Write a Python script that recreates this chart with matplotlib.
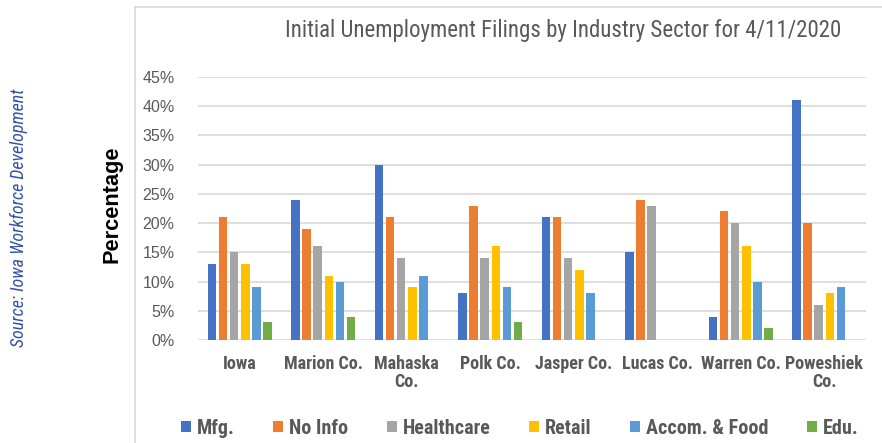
import numpy as np
import matplotlib
matplotlib.use("Agg")
import matplotlib.pyplot as plt
from matplotlib.lines import Line2D

# data (percent)
counties = ["Iowa", "Marion Co.", "Mahaska\nCo.", "Polk Co.", "Jasper Co.",
            "Lucas Co.", "Warren Co.", "Poweshiek\nCo."]
sectors = ["Mfg.", "No Info", "Healthcare", "Retail", "Accom. & Food", "Edu."]
mfg = [13, 24, 30, 8, 21, 15, 4, 41]
no_info = [21, 19, 21, 23, 21, 24, 22, 20]
healthcare = [15, 16, 14, 14, 14, 23, 20, 6]
retail = [13, 11, 9, 16, 12, 0, 16, 8]
accom_food = [9, 10, 11, 9, 8, 0, 10, 9]
edu = [3, 4, 0, 3, 0, 0, 2, 0]
yticks = [0, 5, 10, 15, 20, 25, 30, 35, 40, 45]

colors = ["#4472C4", "#ED7D31", "#A5A5A5", "#FFC000", "#5B9BD5", "#70AD47"]
series = [mfg, no_info, healthcare, retail, accom_food, edu]

narrow = ["Roboto Condensed", "DejaVu Sans"]
gray = "#595959"

fig = plt.figure(figsize=(8.82, 4.43), dpi=100)
ax = fig.add_axes([198/882, 1-340/443, (866-198)/882, (340-77)/443])

x = np.arange(len(counties))
pitch = 0.132
width = 0.102
for i, (vals, c) in enumerate(zip(series, colors)):
    v = np.array(vals, dtype=float)
    v[v == 0] = np.nan  # nothing drawn for empty cells
    ax.bar(x + (i - 2.5) * pitch, v, width, color=c, label=sectors[i], zorder=3)

ax.set_xlim(-0.5, len(counties) - 0.5)
ax.set_ylim(0, 45)
ax.set_yticks(yticks)
ax.set_yticklabels([f"{t}%" for t in yticks], fontsize=11.5, color=gray,
                   family="Liberation Sans")
ax.set_xticks(x)
ax.set_xticklabels(counties, fontsize=13, color=gray, family=narrow,
                   fontweight="bold", linespacing=1.0)
ax.tick_params(axis="y", length=0, pad=17)
ax.tick_params(axis="x", length=0, pad=11)
ax.grid(axis="y", color="#D9D9D9", linewidth=1.2, zorder=0)
for s in ax.spines.values():
    s.set_visible(False)

ax.set_ylabel("Percentage", fontsize=15.7, fontweight="bold", color="black",
              family="Liberation Sans")
ax.yaxis.set_label_coords(-(198-123)/668, (340-204)/263)

fig.text(563/882, 1-31/443, "Initial Unemployment Filings by Industry Sector for 4/11/2020",
         ha="center", va="center", fontsize=16.5, color=gray, family=narrow)
fig.text(19/882, 1-218/443, "Source: Iowa Workforce Development", rotation=90,
         ha="center", va="center", fontsize=13, style="italic", color="#2F52A8",
         family=narrow)

# chart frame
fig.add_artist(Line2D([135/882, 135/882], [0, 1-7/443], color="#D9D9D9", lw=1.2))
fig.add_artist(Line2D([135/882, 1], [1-7/443, 1-7/443], color="#D9D9D9", lw=1.2))

leg = fig.legend(loc="center", bbox_to_anchor=(520/882, 1-428/443), ncol=6,
                 frameon=False, handlelength=0.5, handleheight=0.5,
                 handletextpad=0.3, columnspacing=1.9,
                 prop={"family": narrow, "weight": "bold", "size": 14.5})
for t in leg.get_texts():
    t.set_color(gray)

fig.savefig("out.png", dpi=100)
